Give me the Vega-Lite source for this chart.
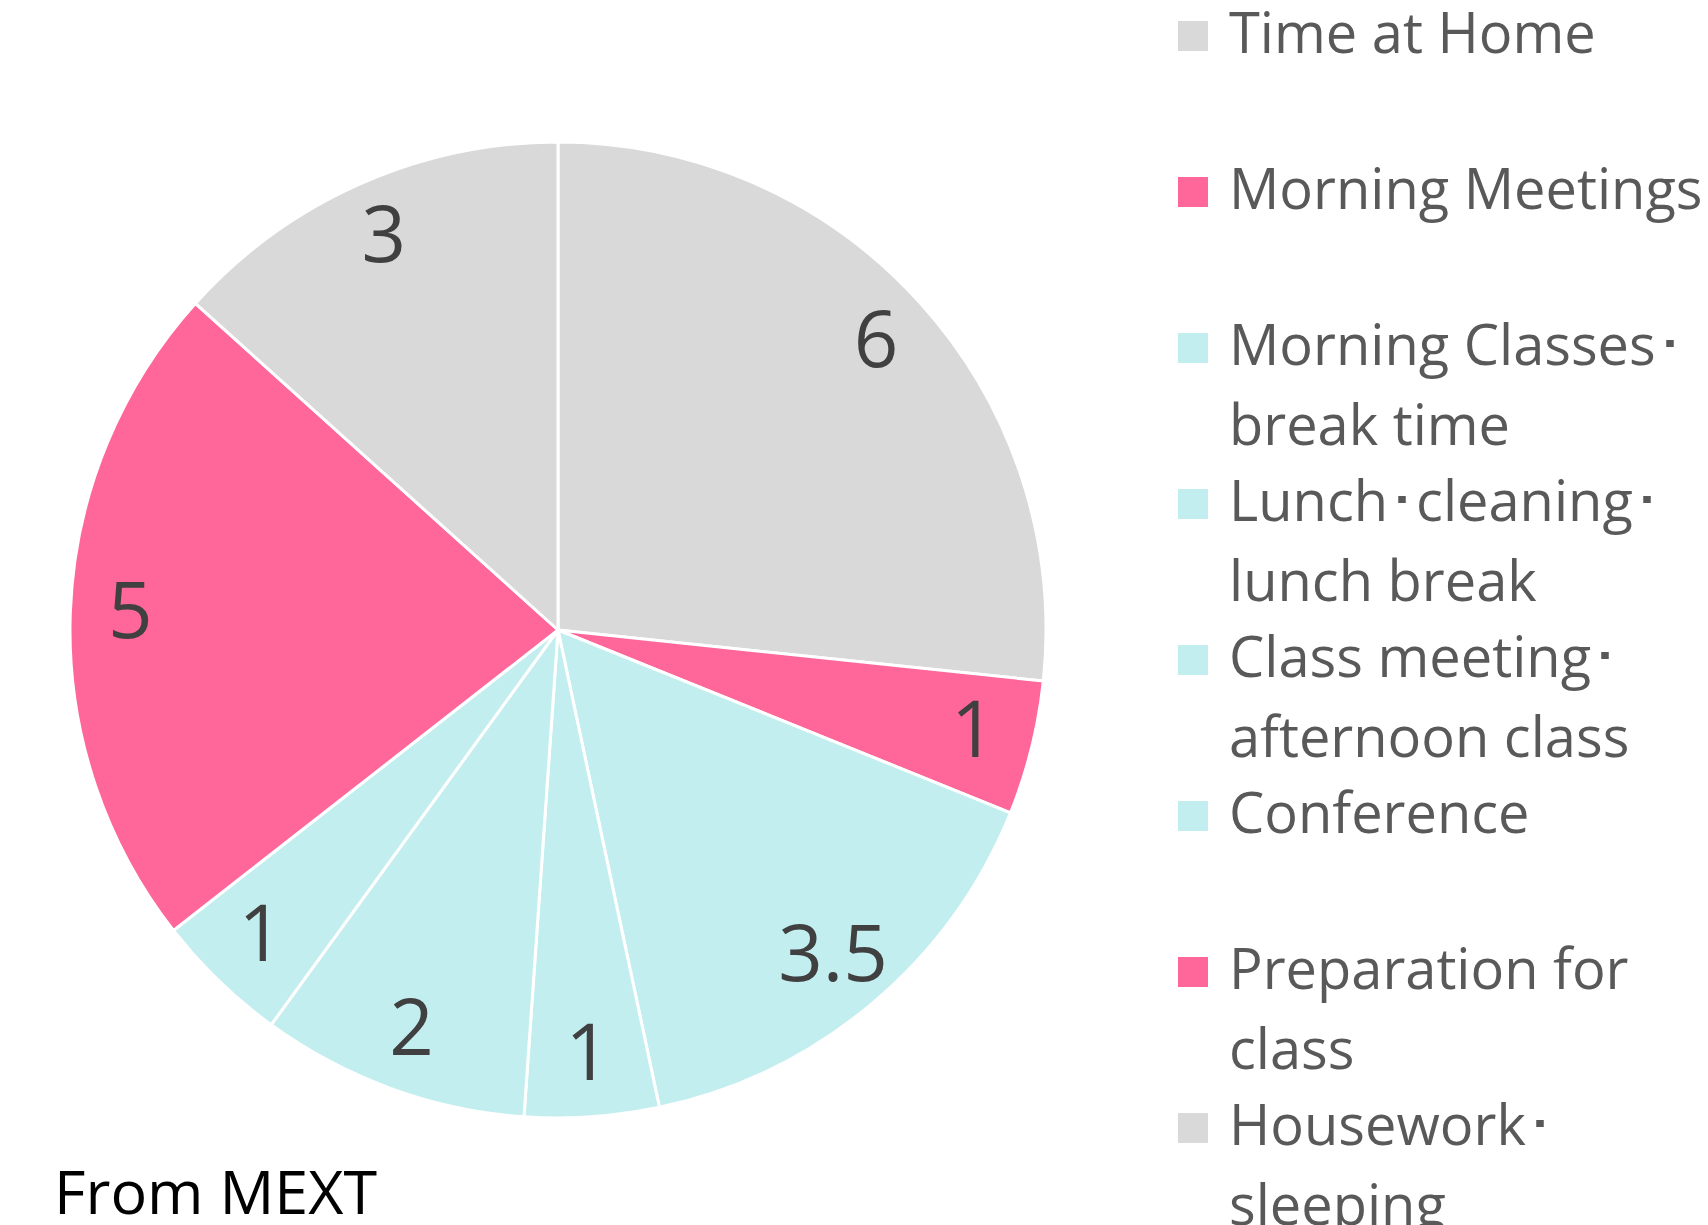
{
  "$schema": "https://vega.github.io/schema/vega-lite/v6.json",
  "width": 976,
  "height": 976,
  "autosize": {"type": "none"},
  "padding": {"left": 70, "top": 142, "right": 662, "bottom": 107},
  "background": "white",
  "config": {"view": {"stroke": null}},
  "title": {
    "text": "From MEXT",
    "orient": "bottom",
    "anchor": "start",
    "frame": "group",
    "font": "Open Sans",
    "fontSize": 61,
    "fontWeight": "normal",
    "color": "#000000",
    "baseline": "alphabetic",
    "offset": -22,
    "dx": -16
  },
  "data": {
    "values": [
      {"seq": 1, "category": "Time at Home", "hours": 6},
      {"seq": 2, "category": "Morning Meetings", "hours": 1},
      {"seq": 3, "category": "Morning Classes･break time", "hours": 3.5},
      {"seq": 4, "category": "Lunch･cleaning･lunch break", "hours": 1},
      {"seq": 5, "category": "Class meeting･afternoon class", "hours": 2},
      {"seq": 6, "category": "Conference", "hours": 1},
      {"seq": 7, "category": "Preparation for class", "hours": 5},
      {"seq": 8, "category": "Housework･sleeping", "hours": 3}
    ]
  },
  "encoding": {
    "theta": {"field": "hours", "type": "quantitative", "stack": true},
    "order": {"field": "seq", "type": "quantitative", "sort": "ascending"},
    "color": {
      "field": "category",
      "type": "nominal",
      "sort": null,
      "scale": {
        "domain": ["Time at Home", "Morning Meetings", "Morning Classes･break time", "Lunch･cleaning･lunch break", "Class meeting･afternoon class", "Conference", "Preparation for class", "Housework･sleeping"],
        "range": ["#D9D9D9", "#FF6699", "#C3EEF0", "#C3EEF0", "#C3EEF0", "#C3EEF0", "#FF6699", "#D9D9D9"]
      },
      "legend": {
        "orient": "none",
        "legendX": 1095,
        "legendY": -134,
        "direction": "vertical",
        "title": null,
        "padding": 0,
        "symbolType": "square",
        "symbolSize": 900,
        "symbolStrokeWidth": 0,
        "labelFont": "Open Sans",
        "labelFontSize": 56,
        "labelColor": "#595959",
        "labelLimit": 900,
        "labelOffset": 8,
        "labelBaseline": "middle",
        "rowPadding": 20,
        "labelExpr": "datum.label == 'Time at Home' ? ['Time at Home', ' '] : datum.label == 'Morning Meetings' ? ['Morning Meetings', ' '] : datum.label == 'Morning Classes･break time' ? ['Morning Classes･', 'break time'] : datum.label == 'Lunch･cleaning･lunch break' ? ['Lunch･cleaning･', 'lunch break'] : datum.label == 'Class meeting･afternoon class' ? ['Class meeting･', 'afternoon class'] : datum.label == 'Conference' ? ['Conference', ' '] : datum.label == 'Preparation for class' ? ['Preparation for', 'class'] : ['Housework･', 'sleeping']",
        "encoding": {"labels": {"lineHeight": {"value": 80}}}
      }
    }
  },
  "layer": [
    {"mark": {"type": "arc", "outerRadius": 488, "stroke": "white", "strokeWidth": 3}},
    {
      "mark": {"type": "text", "radius": 428, "font": "Open Sans", "fontSize": 78},
      "encoding": {
        "text": {"field": "hours", "type": "quantitative"},
        "color": {
          "condition": {"test": "true", "value": "#404040"},
          "field": "category",
          "type": "nominal",
          "sort": null,
          "legend": null
        }
      }
    }
  ]
}
